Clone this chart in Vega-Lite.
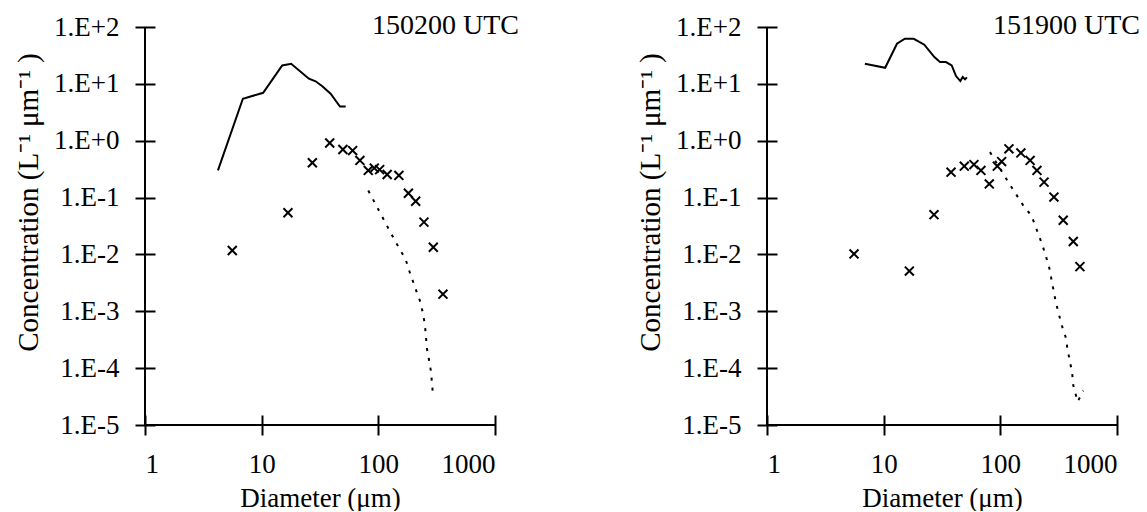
{
  "$schema": "https://vega.github.io/schema/vega-lite/v6.json",
  "padding": {"left": 14, "top": 12, "right": 0, "bottom": 0},
  "background": "white",
  "config": {
    "font": "Liberation Serif",
    "view": {"stroke": null},
    "concat": {"spacing": 117},
    "axis": {
      "domain": false,
      "grid": false,
      "tickSize": 20,
      "offset": -10,
      "tickWidth": 2,
      "tickColor": "black",
      "labelFont": "Liberation Serif",
      "labelFontSize": 27,
      "labelColor": "black",
      "titleFont": "Liberation Serif",
      "titleFontSize": 27,
      "titleFontWeight": "normal",
      "titleColor": "black"
    }
  },
  "datasets": {
    "d": [
      {"panel": "A", "series": "solid", "d": 4.22, "c": 0.30},
      {"panel": "A", "series": "solid", "d": 6.9, "c": 5.47},
      {"panel": "A", "series": "solid", "d": 10.3, "c": 6.97},
      {"panel": "A", "series": "solid", "d": 15.0, "c": 21.1},
      {"panel": "A", "series": "solid", "d": 17.9, "c": 22.6},
      {"panel": "A", "series": "solid", "d": 25.4, "c": 12.3},
      {"panel": "A", "series": "solid", "d": 29, "c": 11.1},
      {"panel": "A", "series": "solid", "d": 33.1, "c": 9.1},
      {"panel": "A", "series": "solid", "d": 39, "c": 6.7},
      {"panel": "A", "series": "solid", "d": 46.9, "c": 4.0},
      {"panel": "A", "series": "solid", "d": 52.5, "c": 4.0},
      {"panel": "A", "series": "cross", "d": 5.6, "c": 0.0117},
      {"panel": "A", "series": "cross", "d": 16.8, "c": 0.054},
      {"panel": "A", "series": "cross", "d": 27.2, "c": 0.41},
      {"panel": "A", "series": "cross", "d": 38.3, "c": 0.91},
      {"panel": "A", "series": "cross", "d": 49.7, "c": 0.70},
      {"panel": "A", "series": "cross", "d": 60.2, "c": 0.67},
      {"panel": "A", "series": "cross", "d": 69.5, "c": 0.45},
      {"panel": "A", "series": "cross", "d": 82, "c": 0.30},
      {"panel": "A", "series": "cross", "d": 92.3, "c": 0.33},
      {"panel": "A", "series": "cross", "d": 102.6, "c": 0.31},
      {"panel": "A", "series": "cross", "d": 119, "c": 0.255},
      {"panel": "A", "series": "cross", "d": 150, "c": 0.245},
      {"panel": "A", "series": "cross", "d": 181, "c": 0.119},
      {"panel": "A", "series": "cross", "d": 209, "c": 0.086},
      {"panel": "A", "series": "cross", "d": 246, "c": 0.037},
      {"panel": "A", "series": "cross", "d": 296, "c": 0.0134},
      {"panel": "A", "series": "cross", "d": 358, "c": 0.002},
      {"panel": "A", "series": "dotted", "d": 82, "c": 0.133},
      {"panel": "A", "series": "dotted", "d": 141, "c": 0.0164},
      {"panel": "A", "series": "dotted", "d": 171, "c": 0.0083},
      {"panel": "A", "series": "dotted", "d": 185, "c": 0.005},
      {"panel": "A", "series": "dotted", "d": 213, "c": 0.0022},
      {"panel": "A", "series": "dotted", "d": 230, "c": 0.00144},
      {"panel": "A", "series": "dotted", "d": 241, "c": 0.00092},
      {"panel": "A", "series": "dotted", "d": 251, "c": 0.00057},
      {"panel": "A", "series": "dotted", "d": 261, "c": 0.000223},
      {"panel": "A", "series": "dotted", "d": 271, "c": 0.000145},
      {"panel": "A", "series": "dotted", "d": 282, "c": 0.00009},
      {"panel": "A", "series": "dotted", "d": 294, "c": 0.0000346},
      {"panel": "B", "series": "solid", "d": 6.9, "c": 22.6},
      {"panel": "B", "series": "solid", "d": 10.3, "c": 19.2},
      {"panel": "B", "series": "solid", "d": 13.0, "c": 50.8},
      {"panel": "B", "series": "solid", "d": 15.2, "c": 62.2},
      {"panel": "B", "series": "solid", "d": 18.1, "c": 62},
      {"panel": "B", "series": "solid", "d": 22.3, "c": 48.9},
      {"panel": "B", "series": "solid", "d": 27.2, "c": 29.6},
      {"panel": "B", "series": "solid", "d": 30.4, "c": 24.2},
      {"panel": "B", "series": "solid", "d": 34.2, "c": 24.2},
      {"panel": "B", "series": "solid", "d": 38.3, "c": 21.1},
      {"panel": "B", "series": "solid", "d": 41.7, "c": 13.7},
      {"panel": "B", "series": "solid", "d": 45.4, "c": 11.2},
      {"panel": "B", "series": "solid", "d": 47.6, "c": 13.2},
      {"panel": "B", "series": "solid", "d": 49.8, "c": 12.0},
      {"panel": "B", "series": "solid", "d": 51.7, "c": 13.0},
      {"panel": "B", "series": "cross", "d": 5.57, "c": 0.0102},
      {"panel": "B", "series": "cross", "d": 16.6, "c": 0.0051},
      {"panel": "B", "series": "cross", "d": 27, "c": 0.050},
      {"panel": "B", "series": "cross", "d": 37.8, "c": 0.28},
      {"panel": "B", "series": "cross", "d": 49.1, "c": 0.357},
      {"panel": "B", "series": "cross", "d": 59.4, "c": 0.38},
      {"panel": "B", "series": "cross", "d": 68.2, "c": 0.30},
      {"panel": "B", "series": "cross", "d": 80.4, "c": 0.174},
      {"panel": "B", "series": "cross", "d": 94.2, "c": 0.357},
      {"panel": "B", "series": "cross", "d": 102.6, "c": 0.43},
      {"panel": "B", "series": "cross", "d": 118.5, "c": 0.72},
      {"panel": "B", "series": "cross", "d": 150, "c": 0.61},
      {"panel": "B", "series": "cross", "d": 180, "c": 0.45},
      {"panel": "B", "series": "cross", "d": 206, "c": 0.30},
      {"panel": "B", "series": "cross", "d": 237, "c": 0.187},
      {"panel": "B", "series": "cross", "d": 288, "c": 0.102},
      {"panel": "B", "series": "cross", "d": 346, "c": 0.040},
      {"panel": "B", "series": "cross", "d": 422, "c": 0.0169},
      {"panel": "B", "series": "cross", "d": 481, "c": 0.0061},
      {"panel": "B", "series": "dotted", "d": 81.5, "c": 0.63},
      {"panel": "B", "series": "dotted", "d": 117, "c": 0.187},
      {"panel": "B", "series": "dotted", "d": 157, "c": 0.073},
      {"panel": "B", "series": "dotted", "d": 185, "c": 0.048},
      {"panel": "B", "series": "dotted", "d": 230, "c": 0.0144},
      {"panel": "B", "series": "dotted", "d": 261, "c": 0.0062},
      {"panel": "B", "series": "dotted", "d": 299, "c": 0.00144},
      {"panel": "B", "series": "dotted", "d": 335, "c": 0.00058},
      {"panel": "B", "series": "dotted", "d": 365, "c": 0.00034},
      {"panel": "B", "series": "dotted", "d": 377, "c": 0.000208},
      {"panel": "B", "series": "dotted", "d": 395, "c": 0.000132},
      {"panel": "B", "series": "dotted", "d": 413, "c": 0.000081},
      {"panel": "B", "series": "dotted", "d": 422, "c": 0.000050},
      {"panel": "B", "series": "dotted", "d": 460, "c": 0.0000257},
      {"panel": "B", "series": "dotted", "d": 514, "c": 0.0000402}
    ],
    "axisY": [{"d": 1, "c": 0.00001, "c2": 100}],
    "axisX": [{"d": 1, "d2": 1000, "c": 0.00001}],
    "labels": [
      {"panel": "A", "d": 1000, "c": 100, "label": "150200 UTC"},
      {"panel": "B", "d": 1000, "c": 100, "label": "151900 UTC"}
    ]
  },
  "hconcat": [
    {
      "width": 350,
      "height": 398,
      "encoding": {
        "x": {"field": "d", "type": "quantitative", "scale": {"type": "log", "domain": [1, 1000], "nice": false},
          "axis": {"title": "Diameter (μm)", "values": [1, 10, 100, 1000], "format": "d", "labelPadding": 16, "titlePadding": 8}},
        "y": {"field": "c", "type": "quantitative", "scale": {"type": "log", "domain": [0.00001, 100], "nice": false},
          "axis": {"title": "Concentration (L⁻¹  μm⁻¹ )", "titleFontSize": 29, "titleY": 175, "values": [0.00001, 0.0001, 0.001, 0.01, 0.1, 1, 10, 100],
            "labelExpr": "'1.E' + (datum.value >= 1 ? '+' : '-') + abs(round(log(datum.value)/LN10))", "labelPadding": 16, "titlePadding": 10}}
      },
      "layer": [
        {"data": {"name": "axisY"}, "mark": {"type": "rule", "color": "black", "strokeWidth": 2},
          "encoding": {"y2": {"field": "c2"}}},
        {"data": {"name": "axisX"}, "mark": {"type": "rule", "color": "black", "strokeWidth": 2},
          "encoding": {"x2": {"field": "d2"}}},
        {"data": {"name": "d"}, "transform": [{"filter": "datum.panel === 'A' && datum.series === 'solid'"}], "mark": {"type": "line", "color": "black", "strokeWidth": 2}},
        {"data": {"name": "d"}, "transform": [{"filter": "datum.panel === 'A' && datum.series === 'dotted'"}], "mark": {"type": "line", "color": "black", "strokeWidth": 2, "strokeDash": [3, 7]}},
        {"data": {"name": "d"}, "transform": [{"filter": "datum.panel === 'A' && datum.series === 'cross'"}], "mark": {"type": "point", "shape": "M-1,-1L1,1M1,-1L-1,1", "size": 80, "filled": false, "color": "black", "strokeWidth": 2, "opacity": 1}},
        {"data": {"name": "labels"}, "transform": [{"filter": "datum.panel === 'A'"}], "mark": {"type": "text", "align": "right", "baseline": "alphabetic", "dx": 24, "dy": 7, "fontSize": 28, "font": "Liberation Serif", "color": "black"},
          "encoding": {"text": {"field": "label"}}}
      ]
    },
    {
      "width": 350,
      "height": 398,
      "encoding": {
        "x": {"field": "d", "type": "quantitative", "scale": {"type": "log", "domain": [1, 1000], "nice": false},
          "axis": {"title": "Diameter (μm)", "values": [1, 10, 100, 1000], "format": "d", "labelPadding": 16, "titlePadding": 8}},
        "y": {"field": "c", "type": "quantitative", "scale": {"type": "log", "domain": [0.00001, 100], "nice": false},
          "axis": {"title": "Concentration (L⁻¹  μm⁻¹ )", "titleFontSize": 29, "titleY": 175, "values": [0.00001, 0.0001, 0.001, 0.01, 0.1, 1, 10, 100],
            "labelExpr": "'1.E' + (datum.value >= 1 ? '+' : '-') + abs(round(log(datum.value)/LN10))", "labelPadding": 16, "titlePadding": 10}}
      },
      "layer": [
        {"data": {"name": "axisY"}, "mark": {"type": "rule", "color": "black", "strokeWidth": 2},
          "encoding": {"y2": {"field": "c2"}}},
        {"data": {"name": "axisX"}, "mark": {"type": "rule", "color": "black", "strokeWidth": 2},
          "encoding": {"x2": {"field": "d2"}}},
        {"data": {"name": "d"}, "transform": [{"filter": "datum.panel === 'B' && datum.series === 'solid'"}], "mark": {"type": "line", "color": "black", "strokeWidth": 2}},
        {"data": {"name": "d"}, "transform": [{"filter": "datum.panel === 'B' && datum.series === 'dotted'"}], "mark": {"type": "line", "color": "black", "strokeWidth": 2, "strokeDash": [3, 7]}},
        {"data": {"name": "d"}, "transform": [{"filter": "datum.panel === 'B' && datum.series === 'cross'"}], "mark": {"type": "point", "shape": "M-1,-1L1,1M1,-1L-1,1", "size": 80, "filled": false, "color": "black", "strokeWidth": 2, "opacity": 1}},
        {"data": {"name": "labels"}, "transform": [{"filter": "datum.panel === 'B'"}], "mark": {"type": "text", "align": "right", "baseline": "alphabetic", "dx": 23, "dy": 7, "fontSize": 28, "font": "Liberation Serif", "color": "black"},
          "encoding": {"text": {"field": "label"}}}
      ]
    }
  ]
}
